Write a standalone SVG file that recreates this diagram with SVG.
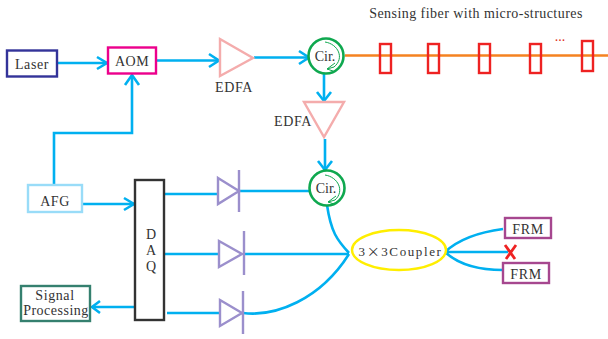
<svg xmlns="http://www.w3.org/2000/svg" width="608" height="339" viewBox="0 0 608 339">
<style>
text{font-family:"Liberation Serif","Times New Roman",serif;fill:#333;font-size:14px;text-anchor:middle}
.box{fill:#fff;stroke-width:2.400}
.c{fill:none;stroke:#00b0f0;stroke-width:2.600}
.amp{fill:#fff;stroke:#f4acac;stroke-width:2.400}
.pd{fill:none;stroke:#9b8fcc;stroke-width:2.400}
.fb{fill:none;stroke:#ee2222;stroke-width:2.400}
.cir{fill:#fff;stroke:#0fa84f;stroke-width:2.600}
.ca{fill:none;stroke:#0fa84f;stroke-width:1}
</style>
<g id="connectors">
<path class="c" d="M58 63H107M157 60.500H219M254 57.500H309"/>
<path class="c" d="M54 185V133H132V76"/>
<path class="c" d="M82 204H134"/>
<path class="c" d="M165 194H218M165 254H219M167 313H220"/>
<path class="c" d="M135 307H92"/>
<path class="c" d="M324 73V101M325 139V170"/>
<path class="c" d="M240 191H310"/>
<path class="c" d="M243 254H349"/>
<path class="c" d="M243 313C275 317 320 300 349 254"/>
<path class="c" d="M327 205C331 232 337 240 349 253"/>
<path class="c" d="M445 252C460 238 480 232 503 229M445 252H508M445 252C460 266 480 270 503 270"/>
<path class="c" d="M97 57L107 63L97 69M209 54L219 60.500L209 67M125 85L132 75L139 85M299 51L309 57.500L299 64M317 92L324 101L331 92M318 161L325 170L332 161M124 198L134 204L124 210M100 301L92 307L100 313"/>
<path d="M345 55.500H608" fill="none" stroke="#f58220" stroke-width="2.600"/>
</g>
<g id="laser"><rect class="box" x="7" y="50.500" width="50" height="26" stroke="#333399"/><text x="32" y="68.500" letter-spacing=".6">Laser</text></g>
<g id="aom"><rect class="box" x="108" y="47.500" width="48" height="26" stroke="#ec008c"/><text x="132" y="66" letter-spacing=".5">AOM</text></g>
<g id="edfa1"><path class="amp" d="M220 39L253 58L220 76Z"/><text x="234" y="92" letter-spacing=".6">EDFA</text></g>
<g id="circ1"><circle class="cir" cx="326" cy="56" r="17.500"/><text x="325" y="61">Cir.</text><path class="ca" d="M325 42C338 44 345 58 334 67L327 69M335 63L327 69L333 71"/></g>
<g id="edfa2"><path class="amp" d="M304 102H344L324 137Z"/><text x="293" y="126" letter-spacing=".6">EDFA</text></g>
<g id="microstructures">
<rect class="fb" x="380" y="44" width="11" height="29"/><rect class="fb" x="428" y="44" width="11" height="29"/><rect class="fb" x="479" y="44" width="11" height="29"/><rect class="fb" x="530" y="44" width="11" height="29"/><rect class="fb" x="582" y="41" width="11" height="30"/>
</g>
<g id="fiber-label"><text x="476" y="18" letter-spacing=".45">Sensing fiber with micro-structures</text><text x="560" y="41" style="fill:#e03020;font-size:14px">...</text></g>
<g id="afg"><rect class="box" x="28" y="185" width="54" height="27" stroke="#99dcf8"/><text x="55" y="206" letter-spacing=".5">AFG</text></g>
<g id="daq"><rect class="box" x="135" y="180" width="29" height="140" stroke="#333"/><text x="151" y="239">D</text><text x="151" y="255">A</text><text x="151" y="271">Q</text></g>
<g id="signal"><rect class="box" x="21" y="286" width="69" height="35" stroke="#35806f"/><text x="55" y="300" letter-spacing=".6">Signal</text><text x="56" y="315" letter-spacing=".5">Processing</text></g>
<g id="pd1"><path class="pd" d="M218 178L239 191L218 204ZM239 170V212"/></g>
<g id="pd2"><path class="pd" d="M219 241L242 254L219 267ZM244 231V275"/></g>
<g id="pd3"><path class="pd" d="M220 300L242 313L220 326ZM243 291V334"/></g>
<g id="circ2"><circle class="cir" cx="327" cy="188" r="17.500"/><text x="326" y="193">Cir.</text><path class="ca" d="M325 175C338 177 345 191 335 200L328 202M336 196L328 202L334 204"/></g>
<g id="coupler"><ellipse cx="399" cy="250" rx="47" ry="20" fill="#fff" stroke="#ffee00" stroke-width="2.400"/><text x="400.500" y="256" letter-spacing="1.600" style="font-size:13px">3<tspan style="font-family:'Noto Sans CJK SC',sans-serif">×</tspan>3Coupler</text></g>
<g id="frm1"><rect class="box" x="505" y="218" width="46" height="20" stroke="#a6478f"/><text x="528" y="234" letter-spacing=".6">FRM</text></g>
<g id="frm2"><rect class="box" x="503" y="263" width="46" height="20" stroke="#a6478f"/><text x="526" y="279" letter-spacing=".6">FRM</text></g>
<g id="break"><path d="M505 245L515 259M516 245L506 259" fill="none" stroke="#ee2222" stroke-width="2.800"/></g>
</svg>
